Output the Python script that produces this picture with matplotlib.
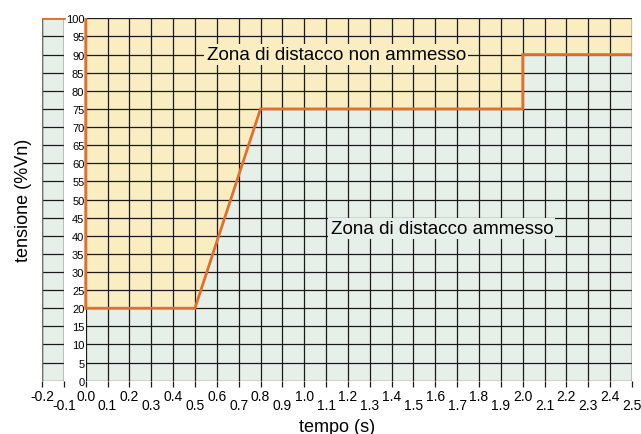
import numpy as np
import matplotlib.pyplot as plt

plt.rcParams['font.family'] = ['Liberation Sans', 'DejaVu Sans']

# soglia di distacco: tempo (s) / tensione (%Vn)
t_soglia = [0.0, 0.0, 0.5, 0.8, 2.0, 2.0, 2.5]
v_soglia = [100, 20, 20, 75, 75, 90, 90]
t_pre = [-0.2, -0.1]
v_pre = [100, 100]

x_ticks = np.round(np.arange(-0.2, 2.51, 0.1), 1)
y_ticks = np.arange(0, 101, 5)

verde = '#e7f0e8'
giallo = '#fbedc2'
arancio = '#e0702c'
griglia = '#1a1a1a'

fig = plt.figure(figsize=(6.41, 4.35), dpi=100)
ax = fig.add_axes([0.0655, 0.1225, 0.9205, 0.8331])
ax.set_xlim(-0.2, 2.5)
ax.set_ylim(0, 100)
ax.set_facecolor(verde)
for s in ax.spines.values():
    s.set_visible(False)

# zona non ammessa sopra la soglia
ax.fill_between(t_soglia, v_soglia, 100, color=giallo, lw=0, zorder=1)
# colonna bianca per le etichette della tensione
ax.axvspan(-0.1, 0.0, color='white', lw=0, zorder=1.5)

# griglia
ax.vlines(x_ticks, 0, 100, color=griglia, lw=0.9, zorder=2)
ax.vlines([-0.2, -0.1, 2.5], 0, 100, color='#707070', lw=1.0, zorder=2.1)
ax.axvspan(-0.0995, -0.0005, color='white', lw=0, zorder=2.2)
ax.hlines(y_ticks, -0.2, -0.1, color=griglia, lw=0.9, zorder=2)
ax.hlines(y_ticks, 0.0, 2.5, color=griglia, lw=0.9, zorder=2)

# soglia
ax.plot(t_soglia, v_soglia, color=arancio, lw=2.0, zorder=4, solid_joinstyle='miter')
ax.plot(t_pre, v_pre, color=arancio, lw=2.0, zorder=4)

# assi
even = x_ticks[::2]
odd = x_ticks[1::2]
ax.set_xticks(even, [f'{v:.1f}' for v in even])
ax.set_xticks(odd, [f'{v:.1f}' for v in odd], minor=True)
ax.tick_params(axis='x', which='both', direction='out', length=4.5, width=0.9,
               color=griglia, labelsize=10)
ax.tick_params(axis='x', which='major', pad=1.5)
ax.tick_params(axis='x', which='minor', pad=8.0)

ax.set_yticks(y_ticks, [str(v) for v in y_ticks])
ax.tick_params(axis='y', length=0, pad=-30.5, labelsize=8)
ax.yaxis.set_zorder(5)

ax.set_xlabel('tempo (s)', fontsize=13, labelpad=4)
ax.set_ylabel('tensione (%Vn)', fontsize=13, labelpad=7)

ax.text(1.147, 90, 'Zona di distacco non ammesso', fontsize=13.5, ha='center',
        va='center', zorder=3,
        bbox=dict(boxstyle='square,pad=0.12', fc=giallo, ec='none'))
ax.text(1.63, 42, 'Zona di distacco ammesso', fontsize=13.5, ha='center',
        va='center', zorder=3,
        bbox=dict(boxstyle='square,pad=0.12', fc=verde, ec='none'))

fig.savefig('out.png', dpi=100)
